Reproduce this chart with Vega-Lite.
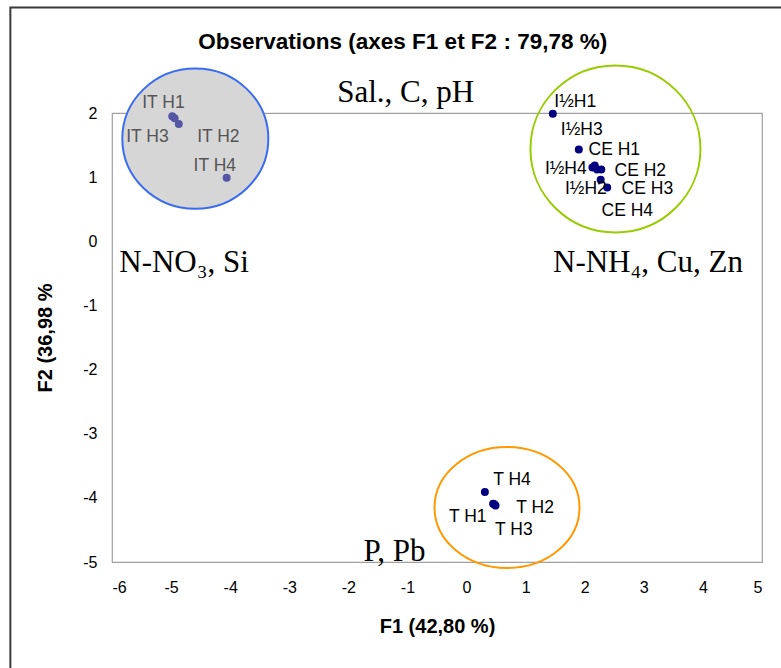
{
  "$schema": "https://vega.github.io/schema/vega-lite/v6.json",
  "width": 650,
  "height": 449,
  "autosize": {"type": "none"},
  "padding": {"left": 112, "top": 113, "right": 19, "bottom": 106},
  "background": "white",
  "config": {
    "view": {"stroke": "#a0a0a0", "strokeWidth": 1.2},
    "axis": {
      "grid": false,
      "domain": false,
      "ticks": false,
      "labelFont": "Liberation Sans",
      "labelFontSize": 16,
      "labelColor": "black",
      "titleFont": "Liberation Sans",
      "titleFontSize": 20,
      "titleFontWeight": "bold",
      "titleColor": "black",
      "labelExpr": "datum.value + ''"
    },
    "axisX": {"labelPadding": 17, "titlePadding": 21},
    "axisY": {"labelPadding": 15, "titlePadding": 27}
  },
  "datasets": {
    "obs": [
      {"obs": "IT H1", "grp": "IT", "F1": -4.98, "F2": 1.95},
      {"obs": "IT H3", "grp": "IT", "F1": -4.94, "F2": 1.92},
      {"obs": "IT H2", "grp": "IT", "F1": -4.87, "F2": 1.83},
      {"obs": "IT H4", "grp": "IT", "F1": -4.06, "F2": 0.99},
      {"obs": "I½H1", "grp": "I½", "F1": 1.46, "F2": 1.99},
      {"obs": "CE H1", "grp": "CE", "F1": 1.90, "F2": 1.43},
      {"obs": "I½H3", "grp": "I½", "F1": 2.17, "F2": 1.18},
      {"obs": "I½H4", "grp": "I½", "F1": 2.13, "F2": 1.15},
      {"obs": "I½H2", "grp": "I½", "F1": 2.21, "F2": 1.12},
      {"obs": "CE H2", "grp": "CE", "F1": 2.28, "F2": 1.12},
      {"obs": "CE H3", "grp": "CE", "F1": 2.27, "F2": 0.96},
      {"obs": "CE H4", "grp": "CE", "F1": 2.38, "F2": 0.84},
      {"obs": "T H4", "grp": "T", "F1": 0.31, "F2": -3.91},
      {"obs": "T H1", "grp": "T", "F1": 0.45, "F2": -4.09},
      {"obs": "T H3", "grp": "T", "F1": 0.47, "F2": -4.10},
      {"obs": "T H2", "grp": "T", "F1": 0.49, "F2": -4.12}
    ],
    "labels": [
      {"text": "IT H1", "grp": "IT", "F1": -5.13, "F2": 2.15},
      {"text": "IT H3", "grp": "IT", "F1": -5.40, "F2": 1.62},
      {"text": "IT H2", "grp": "IT", "F1": -4.20, "F2": 1.62},
      {"text": "IT H4", "grp": "IT", "F1": -4.26, "F2": 1.17},
      {"text": "I½H1", "grp": "I½", "F1": 1.84, "F2": 2.17},
      {"text": "I½H3", "grp": "I½", "F1": 1.95, "F2": 1.74},
      {"text": "CE H1", "grp": "CE", "F1": 2.50, "F2": 1.42},
      {"text": "I½H4", "grp": "I½", "F1": 1.68, "F2": 1.12},
      {"text": "CE H2", "grp": "CE", "F1": 2.94, "F2": 1.10},
      {"text": "I½H2", "grp": "I½", "F1": 2.02, "F2": 0.81},
      {"text": "CE H3", "grp": "CE", "F1": 3.06, "F2": 0.81},
      {"text": "CE H4", "grp": "CE", "F1": 2.72, "F2": 0.47},
      {"text": "T H4", "grp": "T", "F1": 0.77, "F2": -3.72},
      {"text": "T H2", "grp": "T", "F1": 1.16, "F2": -4.16},
      {"text": "T H1", "grp": "T", "F1": 0.02, "F2": -4.30},
      {"text": "T H3", "grp": "T", "F1": 0.80, "F2": -4.50}
    ],
    "quadrants": [
      {"text": "Sal., C, pH", "F1": -1.03, "F2": 2.31},
      {"text": "N-NO₃, Si", "F1": -4.78, "F2": -0.34},
      {"text": "N-NH₄, Cu, Zn", "F1": 3.07, "F2": -0.34},
      {"text": "P, Pb", "F1": -1.22, "F2": -4.845}
    ],
    "titles": [
      {"text": "Observations (axes F1 et F2 : 79,78 %)", "F1": -1.08, "F2": 3.10}
    ],
    "ellipses": [
      {"grp": "IT", "F1": -4.59, "F2": 1.60},
      {"grp": "CE", "F1": 2.52, "F2": 1.44},
      {"grp": "T", "F1": 0.685, "F2": -4.15}
    ],
    "frame": [
      {"F1": -7.72, "F1b": 5.48, "F2": 3.645, "F2b": -6.84}
    ],
    "xticks": [
      {"F1": -6}, {"F1": -5}, {"F1": -4}, {"F1": -3}, {"F1": -2}, {"F1": -1},
      {"F1": 0}, {"F1": 1}, {"F1": 2}, {"F1": 3}, {"F1": 4}, {"F1": 5}
    ],
    "yticks": [
      {"F2": -5}, {"F2": -4}, {"F2": -3}, {"F2": -2}, {"F2": -1}, {"F2": 0}, {"F2": 1}, {"F2": 2}
    ]
  },
  "encoding": {
    "x": {"field": "F1", "type": "quantitative", "title": "F1 (42,80 %)", "scale": {"domain": [-6, 5], "nice": false, "zero": false}, "axis": {"values": [-6, -5, -4, -3, -2, -1, 0, 1, 2, 3, 4, 5]}},
    "y": {"field": "F2", "type": "quantitative", "title": "F2 (36,98 %", "scale": {"domain": [-5, 2], "nice": false, "zero": false}, "axis": {"values": [-5, -4, -3, -2, -1, 0, 1, 2]}}
  },
  "layer": [
    {
      "data": {"name": "frame"},
      "mark": {"type": "rect", "filled": false, "color": "#3a3a3a", "strokeWidth": 2, "clip": false},
      "encoding": {
        "x2": {"field": "F1b"},
        "y2": {"field": "F2b"}
      }
    },
    {
      "data": {"name": "ellipses"},
      "transform": [{"filter": "datum.grp === 'IT'"}],
      "mark": {"type": "point", "shape": "M-1,0A1,0.96,0,0,1,1,0A1,0.96,0,0,1,-1,0Z", "size": 21316, "filled": false, "fill": "#d6d6d6", "fillOpacity": 1, "stroke": "#3a6cf0", "strokeWidth": 2, "opacity": 1}
    },
    {
      "data": {"name": "ellipses"},
      "transform": [{"filter": "datum.grp === 'CE'"}],
      "mark": {"type": "point", "shape": "M-1,0A1,0.982,0,0,1,1,0A1,0.982,0,0,1,-1,0Z", "size": 28900, "filled": false, "stroke": "#99cc00", "strokeWidth": 2, "opacity": 1}
    },
    {
      "data": {"name": "ellipses"},
      "transform": [{"filter": "datum.grp === 'T'"}],
      "mark": {"type": "point", "shape": "M-1,0A1,0.834,0,0,1,1,0A1,0.834,0,0,1,-1,0Z", "size": 21025, "filled": false, "stroke": "#ff9900", "strokeWidth": 2, "opacity": 1}
    },
    {
      "data": {"values": [{}]},
      "mark": {"type": "rule", "color": "#202020", "strokeWidth": 1.3},
      "encoding": {
        "x": {"datum": 0, "type": "quantitative", "title": "F1 (42,80 %)"},
        "y": {"datum": -5, "type": "quantitative", "title": "F2 (36,98 %"},
        "y2": {"datum": 2}
      }
    },
    {
      "data": {"values": [{}]},
      "mark": {"type": "rule", "color": "#202020", "strokeWidth": 1.3},
      "encoding": {
        "y": {"datum": 0, "type": "quantitative", "title": "F2 (36,98 %"},
        "x": {"datum": -6, "type": "quantitative", "title": "F1 (42,80 %)"},
        "x2": {"datum": 5}
      }
    },
    {
      "data": {"name": "xticks"},
      "mark": {"type": "tick", "orient": "vertical", "size": 10, "thickness": 1, "color": "#202020", "yOffset": -2.5},
      "encoding": {
        "y": {"datum": 0, "type": "quantitative", "title": "F2 (36,98 %"}
      }
    },
    {
      "data": {"name": "yticks"},
      "mark": {"type": "tick", "orient": "horizontal", "size": 11, "thickness": 1, "color": "#202020"},
      "encoding": {
        "x": {"datum": 0, "type": "quantitative", "title": "F1 (42,80 %)"}
      }
    },
    {
      "data": {"name": "obs"},
      "mark": {"type": "point", "shape": "circle", "filled": true, "size": 64, "opacity": 1},
      "encoding": {
        "color": {"condition": {"test": "datum.grp === 'IT'", "value": "#5656a6"}, "value": "#000080"}
      }
    },
    {
      "data": {"name": "labels"},
      "mark": {"type": "text", "font": "Liberation Sans", "fontSize": 17.5, "align": "center", "baseline": "middle"},
      "encoding": {
        "text": {"field": "text"},
        "color": {"condition": {"test": "datum.grp === 'IT'", "value": "#555555"}, "value": "#000000"}
      }
    },
    {
      "data": {"name": "quadrants"},
      "mark": {"type": "text", "font": "Liberation Serif", "fontSize": 31, "align": "center", "baseline": "middle", "color": "black"},
      "encoding": {
        "text": {"field": "text"}
      }
    },
    {
      "data": {"name": "titles"},
      "mark": {"type": "text", "font": "Liberation Sans", "fontSize": 22.5, "fontWeight": "bold", "align": "center", "baseline": "middle", "color": "black", "clip": false},
      "encoding": {
        "text": {"field": "text"}
      }
    }
  ]
}
